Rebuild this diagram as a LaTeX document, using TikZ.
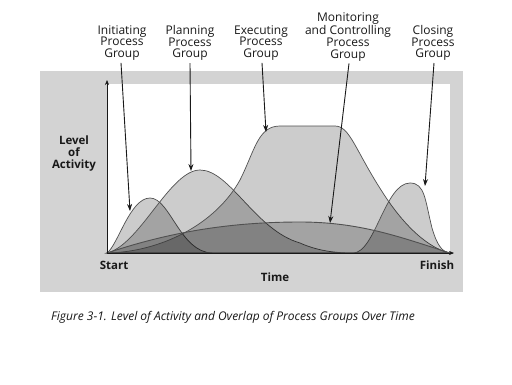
\documentclass[tikz,border=0pt]{standalone}
\usepackage{fontspec}
\setmainfont{Open Sans}
\usetikzlibrary{arrows.meta}
\definecolor{frameGrey}{RGB}{211,211,211}
\definecolor{curveLine}{RGB}{80,80,80}
\definecolor{inkBlack}{RGB}{25,25,25}
\tikzset{
  phase/.style={draw=curveLine,line width=0.7pt,fill=black,fill opacity=0.2,draw opacity=1},
  grouplabel/.style={align=center,inner sep=0pt,font=\fontsize{12}{11.8}\selectfont,text=inkBlack},
  axislabel/.style={inner sep=0pt,font=\fontsize{11.5}{12}\selectfont\bfseries,text=inkBlack},
  pointer/.style={draw=inkBlack,line width=0.9pt,-{Stealth[length=7pt,width=5pt]}}
}

\begin{document}
\begin{tikzpicture}[x=1pt,y=-1pt]
\useasboundingbox (0,0) rectangle (512,384);
\fill[white] (0,0) rectangle (512,384);
% frame and plot area
\fill[frameGrey] (40,71) rectangle (463,292);
\fill[white] (107,84) rectangle (450,253);

\coordinate (start) at (107,253);
\coordinate (finish) at (450,253);

% process group curves
\path[phase] (start) .. controls (118,245) and (130,198) .. (150,198)
  .. controls (170,198) and (180,252) .. (212,253) -- cycle;
\path[phase] (start) .. controls (140,245) and (170,170) .. (200,170)
  .. controls (230,170) and (255,230) .. (300,243)
  .. controls (320,252) and (340,253) .. (353,253) -- cycle;
\path[phase] (start) .. controls (160,252) and (215,225) .. (240,180)
  .. controls (255,150) and (258,126) .. (280,126) -- (335,126)
  .. controls (350,126) and (355,150) .. (383,193)
  .. controls (410,235) and (435,250) .. (finish) -- cycle;
\path[phase] (353,253) .. controls (375,253) and (385,183) .. (410,183)
  .. controls (425,183) and (425,200) .. (432,228)
  .. controls (437,245) and (442,252) .. (finish) -- cycle;
\path[phase,line width=0.9pt] (start) .. controls (170,232) and (230,222) .. (300,222)
  .. controls (360,222) and (400,237) .. (finish) -- cycle;

% axes
\draw[inkBlack,line width=0.6pt,-{Stealth[length=5pt,width=4pt]}] (start) -- (454,253);
\draw[inkBlack,line width=0.6pt,-{Stealth[length=5pt,width=4pt]}] (start) -- (107,80);

\node[axislabel,align=center] (level) at (74,154) {Level\\of\\Activity};
\node[axislabel] (startlbl) at (114,265) {Start};
\node[axislabel] (finishlbl) at (437,265) {Finish};
\node[axislabel] (timelbl) at (275,277) {Time};

% group labels and pointers
\node[grouplabel] (initiating) at (122,43) {Initiating\\Process\\Group};
\node[grouplabel] (planning) at (190,43) {Planning\\Process\\Group};
\node[grouplabel] (executing) at (261,43) {Executing\\Process\\Group};
\node[grouplabel] (monitoring) at (348,37) {Monitoring\\and Controlling\\Process\\Group};
\node[grouplabel] (closing) at (433,43) {Closing\\Process\\Group};

\coordinate (initTip) at (130,211);
\coordinate (planTip) at (191,171);
\coordinate (execTip) at (266,132);
\coordinate (monTip) at (330,223);
\coordinate (closeTip) at (425,186);

\draw[pointer] (initiating.south) ++(-1,2) -- (initTip);
\draw[pointer] (planning.south) ++(0,2) -- (planTip);
\draw[pointer] (executing.south) ++(1,2) -- (execTip);
\draw[pointer] (monitoring.south) ++(1,2) -- (monTip);
\draw[pointer] (closing.south) ++(1,2) -- (closeTip);

\node[inner sep=0pt,font=\fontsize{12}{12}\itshape,text=inkBlack,anchor=west] (caption) at (51,317)
  {Figure 3-1. Level of Activity and Overlap of Process Groups Over Time};
\end{tikzpicture}
\end{document}
